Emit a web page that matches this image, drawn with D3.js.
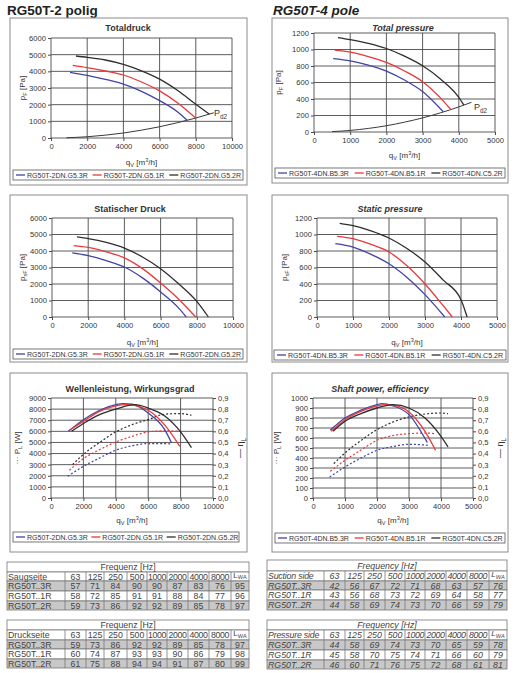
<!DOCTYPE html>
<html>
<head>
<meta charset="utf-8">
<script src="https://cdn.jsdelivr.net/npm/d3@7"></script>
<style>
body { margin: 0; background: #fff; }
svg text { font-family: "Liberation Sans", Arial, sans-serif; }
</style>
</head>
<body>
<svg id="sheet" width="520" height="673"></svg>
<script>
// series names / colours
const names2 = ["RG50T-2DN.G5.3R", "RG50T-2DN.G5.1R", "RG50T-2DN.G5.2R"];
const names4 = ["RG50T-4DN.B5.3R", "RG50T-4DN.B5.1R", "RG50T-4DN.C5.2R"];
const colors = ["#4343a6", "#e8383c", "#2e2e2e"];

// total pressure, 2 pole  [qV m3/h, Pa]
const total2_3R = [[1050,3940],[2000,3760],[3000,3520],[4000,3230],[5000,2800],[6000,2240],[7000,1560],[7520,1060]];
const total2_1R = [[1200,4360],[2000,4220],[3000,4020],[4000,3780],[5000,3360],[6000,2830],[7000,2100],[7990,1200]];
const total2_2R = [[1380,4920],[2000,4840],[3000,4680],[4000,4420],[5000,4030],[6000,3530],[7000,2850],[8000,2030],[8750,1430]];
const system2 = [[850,14],[2000,75],[3000,170],[4000,300],[5000,470],[6000,675],[7000,920],[8000,1200],[9000,1515]];

// total pressure, 4 pole
const total4_3R = [[530,890],[1000,863],[1500,810],[2000,739],[2500,630],[3000,490],[3570,245]];
const total4_1R = [[570,992],[1000,968],[1500,915],[2000,843],[2500,740],[3000,610],[3500,410],[3780,272]];
const total4_2R = [[660,1145],[1000,1120],[1500,1075],[2000,1012],[2500,920],[3000,803],[3500,640],[4000,420],[4140,326]];
const system4 = [[500,5],[1000,19],[1500,43],[2000,76],[2500,119],[3000,171],[3500,233],[4000,304],[4350,360]];

// static pressure, 2 pole
const static2_3R = [[1120,3880],[2000,3720],[3000,3420],[4000,3030],[5000,2370],[6000,1520],[7000,540],[7420,0]];
const static2_1R = [[1200,4330],[2000,4220],[3000,3950],[4000,3580],[5000,2930],[6000,2060],[7000,1080],[7940,0]];
const static2_2R = [[1380,4850],[2000,4750],[3000,4520],[4000,4180],[5000,3640],[6000,2930],[7000,2010],[8000,950],[8640,0]];

// static pressure, 4 pole
const static4_3R = [[510,889],[1000,848],[1500,760],[2000,646],[2500,480],[3000,271],[3550,0]];
const static4_1R = [[560,978],[1000,950],[1500,880],[2000,788],[2500,620],[3000,400],[3500,140],[3760,0]];
const static4_2R = [[630,1135],[1000,1107],[1500,1045],[2000,958],[2500,830],[3000,667],[3500,450],[4000,210],[4170,0]];

// shaft power [W] and efficiency, 2 pole
const power2_3R = [[1030,1950],[2000,2850],[3000,3600],[4000,4300],[5000,4700],[6000,4900],[7000,4900],[7430,4850]];
const power2_1R = [[1130,2490],[2000,3540],[3000,4350],[4000,5040],[5000,5550],[6000,5950],[7000,6050],[7950,6000]];
const power2_2R = [[1330,3000],[2000,3930],[3000,5000],[4000,5950],[5000,6600],[6000,7060],[7000,7540],[8000,7600],[8670,7450]];
const eta2_3R = [[1070,0.60],[2000,0.705],[3000,0.79],[4000,0.84],[4450,0.85],[5000,0.845],[6000,0.765],[7000,0.62],[7430,0.50]];
const eta2_1R = [[1130,0.61],[2000,0.69],[3000,0.78],[4000,0.83],[4660,0.84],[5500,0.82],[6000,0.79],[7000,0.66],[7950,0.465]];
const eta2_2R = [[1270,0.60],[2000,0.67],[3000,0.75],[4000,0.80],[5170,0.84],[6000,0.81],[7000,0.74],[8000,0.595],[8670,0.453]];

// shaft power [W] and efficiency, 4 pole
const power4_3R = [[520,210],[1000,310],[1500,400],[2000,477],[2500,515],[3000,537],[3600,527]];
const power4_1R = [[540,267],[1000,377],[1500,480],[2000,577],[2500,625],[3000,643],[3500,650],[3830,643]];
const power4_2R = [[650,343],[1000,450],[1500,575],[2000,683],[2500,760],[3000,810],[3500,840],[4000,850],[4220,843]];
const eta4_3R = [[540,0.61],[1000,0.72],[1500,0.79],[2000,0.84],[2140,0.85],[2500,0.83],[3000,0.75],[3570,0.50]];
const eta4_1R = [[570,0.60],[1000,0.705],[1500,0.78],[2000,0.83],[2290,0.84],[2500,0.835],[3000,0.774],[3500,0.60],[3830,0.43]];
const eta4_2R = [[630,0.60],[1000,0.69],[1500,0.76],[2000,0.81],[2500,0.84],[3000,0.81],[3500,0.72],[4000,0.555],[4220,0.46]];

// ticks
const qTicks2 = [0, 2000, 4000, 6000, 8000, 10000];
const qTicks4 = [0, 1000, 2000, 3000, 4000, 5000];
const pTicks2 = [0, 1000, 2000, 3000, 4000, 5000, 6000];
const pTicks4 = [0, 200, 400, 600, 800, 1000, 1200];
const wTicks2 = [0, 1000, 2000, 3000, 4000, 5000, 6000, 7000, 8000, 9000];
const wTicks4 = [0, 100, 200, 300, 400, 500, 600, 700, 800, 900, 1000];
const etaTicks = [0, 0.1, 0.2, 0.3, 0.4, 0.5, 0.6, 0.7, 0.8, 0.9];

// sound tables
const freqCols = ["63", "125", "250", "500", "1000", "2000", "4000", "8000"];
const rowLabels = ["RG50T..3R", "RG50T..1R", "RG50T..2R"];
const suction2 = [[57,71,84,90,90,87,83,76,95],[58,72,85,91,91,88,84,77,96],[59,73,86,92,92,89,85,78,97]];
const pressure2 = [[59,73,86,92,92,89,85,78,97],[60,74,87,93,93,90,86,79,98],[61,75,88,94,94,91,87,80,99]];
const suction4 = [[42,56,67,72,71,68,63,57,76],[43,56,68,73,72,69,64,58,77],[44,58,69,74,73,70,66,59,79]];
const pressure4 = [[44,58,69,74,73,70,65,59,78],[45,58,70,75,74,71,66,60,79],[46,60,71,76,75,72,68,61,81]];

const svg = d3.select('#sheet');
const txt = '#333';
const tickFont = 7.6;

// text with sub/superscript parts: [[text, 'sub'|'sup'|null], ...]
function rich(t, parts, fs, subShift = 0.3) {
	let shift = 0;
	parts.forEach(([s, k]) => {
		let target = k === 'sub' ? fs * subShift : k === 'sup' ? -fs * 0.35 : 0;
		t.append('tspan')
			.attr('dy', target - shift)
			.attr('font-size', k ? fs * 0.7 : fs)
			.text(s);
		shift = target;
	});
	return t;
}

function panel(c) {
	let g = svg.append('g');
	let [bx0, by0, bx1, by1] = c.box;
	let [px0, py0, px1, py1] = c.plot;

	g.append('rect')
		.attr('x', bx0).attr('y', by0)
		.attr('width', bx1 - bx0).attr('height', by1 - by0)
		.attr('fill', 'none').attr('stroke', '#8c8c8c');

	let x = d3.scaleLinear().domain(c.xDomain).range([px0, px1]);
	let y = d3.scaleLinear().domain(c.yDomain).range([py1, py0]);

	// grid
	g.append('g').selectAll('line').data(c.yTicks).join('line')
		.attr('x1', px0).attr('x2', px1)
		.attr('y1', d => y(d)).attr('y2', d => y(d))
		.attr('stroke', '#4a4a4a').attr('stroke-width', 0.9);
	g.append('g').selectAll('line').data(c.xTicks).join('line')
		.attr('y1', py0).attr('y2', py1)
		.attr('x1', d => x(d)).attr('x2', d => x(d))
		.attr('stroke', '#4a4a4a').attr('stroke-width', 0.9);

	let styleAxis = a => {
		a.select('.domain').remove();
		a.attr('font-family', '"Liberation Sans", Arial, sans-serif').attr('font-size', tickFont);
		a.selectAll('text').attr('fill', txt);
		a.selectAll('line').attr('stroke', '#4a4a4a');
	};

	g.append('g')
		.attr('transform', `translate(0,${py1})`)
		.call(d3.axisBottom(x).tickValues(c.xTicks).tickSize(3).tickPadding(3).tickFormat(d3.format('d')))
		.call(styleAxis);
	g.append('g')
		.attr('transform', `translate(${px0},0)`)
		.call(d3.axisLeft(y).tickValues(c.yTicks).tickSize(3).tickPadding(2).tickFormat(d3.format('d')))
		.call(styleAxis);

	let yR = null;
	if (c.eta) {
		yR = d3.scaleLinear().domain([0, 0.9]).range([py1, py0]);
		g.append('g')
			.attr('transform', `translate(${px1},0)`)
			.call(d3.axisRight(yR).tickValues(etaTicks).tickSize(3).tickPadding(2)
				.tickFormat(d => d.toFixed(1).replace('.', ',')))
			.call(styleAxis);
	}

	// title
	g.append('text')
		.attr('x', c.titleX).attr('y', c.titleY)
		.attr('text-anchor', 'middle')
		.attr('font-size', 9).attr('font-weight', 'bold')
		.attr('font-style', c.italic ? 'italic' : 'normal')
		.attr('fill', txt)
		.text(c.title);

	// axis labels
	rich(g.append('text')
		.attr('x', (px0 + px1) / 2).attr('y', c.xLabelY)
		.attr('text-anchor', 'middle').attr('fill', txt),
		[['q', null], ['V', 'sub'], [' [m', null], ['3', 'sup'], ['/h]', null]], 8);

	rich(g.append('text')
		.attr('transform', `translate(${c.yLabelX},${(py0 + py1) / 2}) rotate(-90)`)
		.attr('text-anchor', 'middle').attr('fill', txt),
		c.yLabel, 8);

	if (c.eta) {
		rich(g.append('text')
			.attr('transform', `translate(${c.etaLabelX},${(py0 + py1) / 2}) rotate(-90)`)
			.attr('text-anchor', 'middle').attr('fill', txt),
			[['\u2014 \u03b7', null], ['L', 'sub']], 9);
	}

	let line = d3.line().x(d => x(d[0])).curve(d3.curveMonotoneX);

	if (c.system) {
		g.append('path')
			.attr('d', line.y(d => y(d[1]))(c.system))
			.attr('fill', 'none').attr('stroke', '#3a3a3a').attr('stroke-width', 1);
		rich(g.append('text')
			.attr('x', c.pLabel[0]).attr('y', c.pLabel[1])
			.attr('fill', txt),
			[['P', null], ['d2', 'sub']], 9);
	}

	if (c.power) {
		c.power.forEach((s, i) => {
			g.append('path')
				.attr('d', line.y(d => y(d[1]))(s))
				.attr('fill', 'none').attr('stroke', colors[i])
				.attr('stroke-width', 1.2).attr('stroke-dasharray', '2,2');
		});
	}

	c.series.forEach((s, i) => {
		let yy = c.eta ? yR : y;
		g.append('path')
			.attr('d', line.y(d => yy(d[1]))(s))
			.attr('fill', 'none').attr('stroke', colors[i]).attr('stroke-width', 1.3);
	});

	// legend
	let [lx0, ly0, lx1, ly1] = c.legend;
	g.append('rect')
		.attr('x', lx0).attr('y', ly0)
		.attr('width', lx1 - lx0).attr('height', ly1 - ly0)
		.attr('fill', '#fff').attr('stroke', '#555').attr('stroke-width', 0.8);
	let step = (lx1 - lx0) / 3;
	c.names.forEach((n, i) => {
		let sx = lx0 + 3 + i * step;
		let my = (ly0 + ly1) / 2;
		g.append('line')
			.attr('x1', sx).attr('x2', sx + 9)
			.attr('y1', my).attr('y2', my)
			.attr('stroke', colors[i]).attr('stroke-width', 1.3);
		g.append('text')
			.attr('x', sx + 11).attr('y', my + 2.5)
			.attr('font-size', 7).attr('fill', txt)
			.text(n);
	});
}

// headings
svg.append('text').attr('x', 7).attr('y', 15)
	.attr('font-size', 13.5).attr('font-weight', 'bold').attr('fill', '#222')
	.text('RG50T-2 polig');
svg.append('text').attr('x', 273).attr('y', 15)
	.attr('font-size', 13.5).attr('font-weight', 'bold').attr('font-style', 'italic').attr('fill', '#222')
	.text('RG50T-4 pole');

panel({
	box: [10, 18, 247, 185], plot: [51, 38, 232, 138],
	xDomain: [0, 10000], yDomain: [0, 6000], xTicks: qTicks2, yTicks: pTicks2,
	title: 'Totaldruck', titleX: 128, titleY: 31,
	xLabelY: 165, yLabelX: 25, yLabel: [['p', null], ['F', 'sub'], [' [Pa]', null]],
	series: [total2_3R, total2_1R, total2_2R], system: system2, pLabel: [214, 116],
	legend: [13, 170, 243, 180], names: names2
});

panel({
	box: [272, 18, 508, 183], plot: [314, 33, 495, 132],
	xDomain: [0, 5000], yDomain: [0, 1200], xTicks: qTicks4, yTicks: pTicks4,
	title: 'Total pressure', titleX: 403, titleY: 31, italic: true,
	xLabelY: 158, yLabelX: 281, yLabel: [['p', null], ['F', 'sub'], [' [Pa]', null]],
	series: [total4_3R, total4_1R, total4_2R], system: system4, pLabel: [474, 110],
	legend: [275, 168, 505, 178], names: names4
});

panel({
	box: [10, 195, 247, 362], plot: [52, 218, 233, 317],
	xDomain: [0, 10000], yDomain: [0, 6000], xTicks: qTicks2, yTicks: pTicks2,
	title: 'Statischer Druck', titleX: 130, titleY: 212,
	xLabelY: 345, yLabelX: 25, yLabel: [['p', null], ['sF', 'sub'], [' [Pa]', null]],
	series: [static2_3R, static2_1R, static2_2R],
	legend: [13, 349, 243, 359], names: names2
});

panel({
	box: [272, 195, 508, 362], plot: [317, 218, 497, 317],
	xDomain: [0, 5000], yDomain: [0, 1200], xTicks: qTicks4, yTicks: pTicks4,
	title: 'Static pressure', titleX: 390, titleY: 212, italic: true,
	xLabelY: 345, yLabelX: 287, yLabel: [['p', null], ['sF', 'sub'], [' [Pa]', null]],
	series: [static4_3R, static4_1R, static4_2R],
	legend: [274, 350, 506, 360], names: names4
});

panel({
	box: [10, 373, 247, 552], plot: [51, 398, 213, 498],
	xDomain: [0, 10000], yDomain: [0, 9000], xTicks: qTicks2, yTicks: wTicks2,
	title: 'Wellenleistung, Wirkungsgrad', titleX: 130, titleY: 392,
	xLabelY: 523, yLabelX: 20, yLabel: [['\u00b7\u00b7\u00b7 P', null], ['L', 'sub'], [' [W]', null]],
	eta: true, etaLabelX: 243,
	series: [eta2_3R, eta2_1R, eta2_2R], power: [power2_3R, power2_1R, power2_2R],
	legend: [13, 532, 239, 542], names: names2
});

panel({
	box: [272, 373, 508, 552], plot: [313, 398, 473, 498],
	xDomain: [0, 5000], yDomain: [0, 1000], xTicks: qTicks4, yTicks: wTicks4,
	title: 'Shaft power, efficiency', titleX: 380, titleY: 392, italic: true,
	xLabelY: 523, yLabelX: 279, yLabel: [['\u00b7\u00b7\u00b7 P', null], ['L', 'sub'], [' [W]', null]],
	eta: true, etaLabelX: 503,
	series: [eta4_3R, eta4_1R, eta4_2R], power: [power4_3R, power4_1R, power4_2R],
	legend: [275, 533, 505, 543], names: names4
});

// sound power tables
function soundTable(cols, rows, sideLabel, values, italic) {
	let fs = 8.8;
	let g = svg.append('g')
		.attr('font-size', fs)
		.attr('font-style', italic ? 'italic' : 'normal');
	let x0 = cols[0], x1 = cols[cols.length - 1];
	let fills = ['#fff', '#fff', '#c8c8c8', '#fff', '#c8c8c8'];
	rows.slice(0, -1).forEach((ry, r) => {
		g.append('rect')
			.attr('x', x0).attr('y', ry)
			.attr('width', x1 - x0).attr('height', rows[r + 1] - ry)
			.attr('fill', fills[r]).attr('stroke', '#777').attr('stroke-width', 0.8);
	});
	// vertical dividers below header row
	g.append('g').selectAll('line').data(cols.slice(1, -1)).join('line')
		.attr('x1', d => d).attr('x2', d => d)
		.attr('y1', rows[1]).attr('y2', rows[rows.length - 1])
		.attr('stroke', '#777').attr('stroke-width', 0.8);

	let base = r => (rows[r] + rows[r + 1]) / 2 + 3.2;
	let cell = (i, r, v) => g.append('text')
		.attr('x', (cols[i + 1] + cols[i + 2]) / 2).attr('y', base(r))
		.attr('text-anchor', 'middle').attr('fill', '#444')
		.attr('letter-spacing', String(v).length > 3 ? -0.35 : 0)
		.text(v);

	g.append('text')
		.attr('x', (x0 + x1) / 2).attr('y', base(0))
		.attr('text-anchor', 'middle').attr('fill', '#444')
		.text(italic ? 'Frequency [Hz]' : 'Frequenz [Hz]');
	g.append('text').attr('x', x0 + 1).attr('y', base(1)).attr('fill', '#444')
		.attr('letter-spacing', italic ? -0.2 : 0).text(sideLabel);
	freqCols.forEach((f, i) => cell(i, 1, f));
	// L_WA header, raised so its subscript stays inside the cell
	rich(g.append('text')
		.attr('x', (cols[9] + cols[10]) / 2).attr('y', base(1) - 1.8)
		.attr('text-anchor', 'middle').attr('fill', '#444'),
		[['L', null], ['WA', 'sub']], 8, 0.18);
	values.forEach((vals, r) => {
		g.append('text').attr('x', x0 + 1).attr('y', base(r + 2)).attr('fill', '#444').text(rowLabels[r]);
		vals.forEach((v, i) => cell(i, r + 2, v));
	});
}

const colsL = [7, 65, 86, 104, 127, 147, 167, 188, 209, 231, 249];
const colsR = [267, 324, 345, 364, 385, 405, 425, 446, 467, 489, 507];
soundTable(colsL, [562, 572, 581, 591, 601, 610], 'Saugseite', suction2, false);
soundTable(colsL, [620, 630, 640, 649, 659, 668], 'Druckseite', pressure2, false);
soundTable(colsR, [560, 571, 581, 590, 600, 610], 'Suction side', suction4, true);
soundTable(colsR, [620, 630, 640, 650, 660, 669], 'Pressure side', pressure4, true);
</script>
</body>
</html>
